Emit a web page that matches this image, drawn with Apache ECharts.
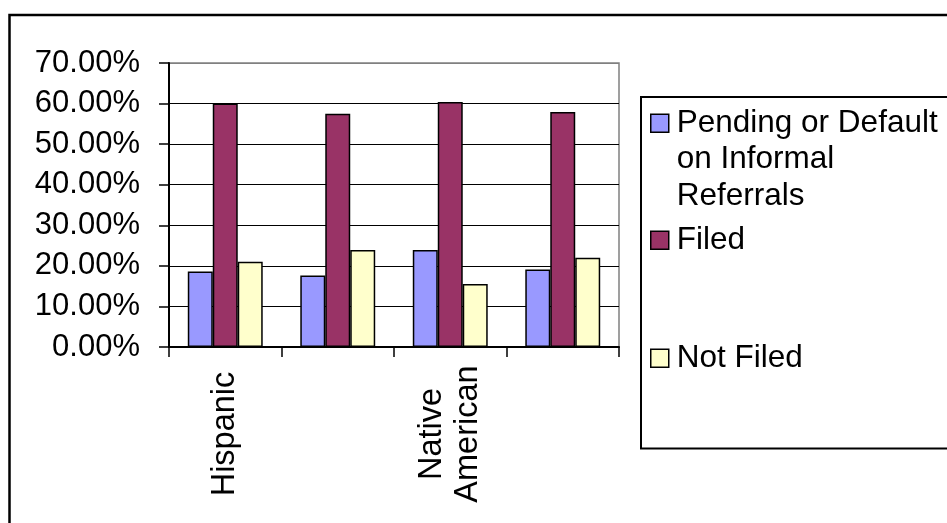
<!DOCTYPE html>
<html>
<head>
<meta charset="utf-8">
<script src="https://cdn.jsdelivr.net/npm/echarts@6/dist/echarts.min.js"></script>
<style>
  html, body { margin: 0; padding: 0; background: #fff; }
  #chart { width: 947px; height: 523px; }
</style>
</head>
<body>
<div id="chart"></div>
<script>
// Referral outcomes by group, in percent
const categories = ['Hispanic', '', 'Native American', ''];
const seriesNames = ['Pending or Default on Informal Referrals', 'Filed', 'Not Filed'];
const legendLabels = ['Pending or Default\non Informal\nReferrals', 'Filed', 'Not Filed'];
const pendingValues = [18.6, 17.6, 23.9, 19.1];
const filedValues = [60.0, 57.5, 60.4, 57.9];
const notFiledValues = [21.0, 23.9, 15.5, 22.0];
const yMin = 0;
const yMax = 70;
const yStep = 10;

const FONT = "'Liberation Sans', Arial, Helvetica, sans-serif";
const colors = ['#9999FF', '#993366', '#FFFFCC'];
const valueSets = [pendingValues, filedValues, notFiledValues];

// Legend text is centred on its swatch; leading blank lines push a
// multi-line label down so that its first line sits beside the swatch.
function swatchOnFirstLine(label) {
  const extra = label.split('\n').length - 1;
  return '\n'.repeat(extra) + label;
}

// one legend block per entry so each can sit at its own height
function legendEntry(i, top) {
  return {
    data: [seriesNames[i]],
    left: 650,
    top: top,
    padding: 0,
    orient: 'vertical',
    icon: 'rect',
    itemWidth: 18,
    itemHeight: 18,
    selectedMode: false,
    formatter: () => swatchOnFirstLine(legendLabels[i]),
    itemStyle: { color: colors[i], borderColor: '#000', borderWidth: 1.5 },
    textStyle: {
      fontFamily: FONT, fontSize: 31.5, lineHeight: 36.5, color: '#000',
      padding: [0, 0, 0, 3]
    }
  };
}

const chart = echarts.init(document.getElementById('chart'), null, { renderer: 'canvas' });
chart.setOption({
  animation: false,
  backgroundColor: '#fff',
  grid: {
    left: 169, top: 63, width: 450, height: 284,
    show: true, borderColor: '#808080', borderWidth: 1.5,
    containLabel: false, outerBoundsMode: 'none'
  },
  legend: [
    legendEntry(0, 32),
    legendEntry(1, 222),
    legendEntry(2, 340)
  ],
  xAxis: {
    type: 'category',
    data: categories,
    boundaryGap: true,
    axisLine: { show: true, lineStyle: { color: '#000', width: 2 } },
    axisTick: { show: true, interval: 0, length: 10, lineStyle: { color: '#000', width: 1.5 } },
    axisLabel: {
      interval: 0, rotate: 90, align: 'center', verticalAlign: 'middle',
      margin: 87, fontFamily: FONT, fontSize: 32.5, lineHeight: 36, color: '#000',
      formatter: v => v.replace(' ', '\n')
    },
    splitLine: { show: false }
  },
  yAxis: {
    type: 'value',
    min: yMin, max: yMax, interval: yStep,
    axisLine: { show: true, lineStyle: { color: '#000', width: 2 } },
    axisTick: { show: true, length: 10, lineStyle: { color: '#000', width: 1.5 } },
    axisLabel: {
      fontFamily: FONT, fontSize: 31, color: '#000', margin: 29,
      formatter: v => v.toFixed(2) + '%'
    },
    splitLine: {
      show: true,
      lineStyle: { color: ['#000', '#000', '#000', '#000', '#000', '#000', '#000', '#808080'], width: 1 }
    }
  },
  series: valueSets.map((vals, i) => ({
    type: 'bar',
    name: seriesNames[i],
    data: vals,
    barGap: '0%',
    barCategoryGap: '33.4%',
    itemStyle: { color: colors[i], borderColor: '#000', borderWidth: 1.5 }
  })),
  graphic: [
    {
      type: 'rect', silent: true, z: 100,
      shape: { x: 9.5, y: 15, width: 2000, height: 2000 },
      style: { fill: 'none', stroke: '#000', lineWidth: 2.5 }
    },
    {
      type: 'rect', silent: true, z: 100,
      shape: { x: 641, y: 97, width: 1000, height: 351.5 },
      style: { fill: 'none', stroke: '#000', lineWidth: 2 }
    }
  ]
});
</script>
</body>
</html>
